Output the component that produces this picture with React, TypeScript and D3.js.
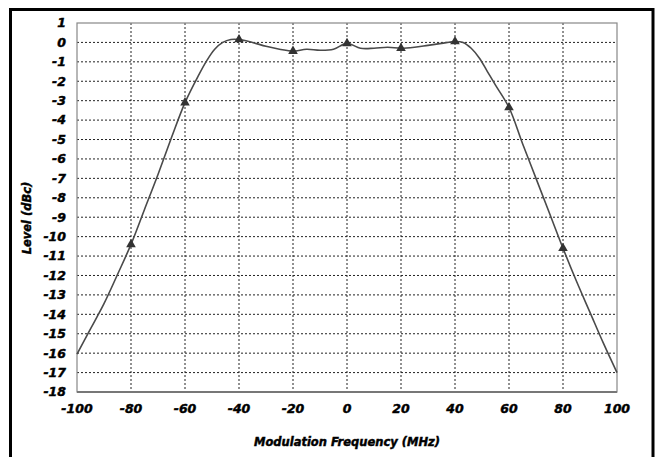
import React, { useEffect, useRef } from 'react';
import * as d3 from 'd3';

// curve samples (MHz, dBc)
const freq = [-100, -95, -90, -85, -80, -75, -70, -65, -60, -55, -52, -49, -46, -43, -40, -35, -30, -25, -20, -15, -10, -5, 0, 5, 10, 15, 20, 25, 30, 35, 40, 43, 46, 49, 52, 55, 60, 65, 70, 75, 80, 85, 90, 95, 100];
const level = [-16.05, -14.75, -13.45, -11.95, -10.4, -8.6, -6.8, -4.9, -3.1, -1.7, -0.95, -0.35, 0.0, 0.15, 0.15, 0.0, -0.2, -0.35, -0.45, -0.35, -0.4, -0.35, -0.05, -0.3, -0.3, -0.25, -0.3, -0.25, -0.15, -0.05, 0.05, 0.0, -0.3, -0.8, -1.5, -2.2, -3.35, -5.2, -7.0, -8.8, -10.6, -12.3, -13.9, -15.5, -17.0];

// triangle markers
const markerFreq = [-80, -60, -40, -20, 0, 20, 40, 60, 80];
const markerLevel = [-10.4, -3.1, 0.15, -0.45, -0.05, -0.3, 0.05, -3.35, -10.6];

const xTicks = [-100, -80, -60, -40, -20, 0, 20, 40, 60, 80, 100];
const yTicks = d3.range(-18, 2);

const App: React.FC = () => {
  const svgRef = useRef<SVGSVGElement>(null);

  useEffect(() => {
    document.body.style.margin = '0';
    if (!svgRef.current) return;
    const svg = d3.select(svgRef.current);
    svg.selectAll('*').remove();

    const left = 77, right = 617, top = 23, bottom = 392;
    const x = d3.scaleLinear().domain([-100, 100]).range([left, right]);
    const y = d3.scaleLinear().domain([-18, 1]).range([bottom, top]);
    const font = '"DejaVu Sans", Verdana, sans-serif';

    svg.append('rect').attr('width', 662).attr('height', 457).attr('fill', '#fff');

    // outer frame
    svg.append('rect')
      .attr('x', 10.5).attr('y', 9.5).attr('width', 642.5).attr('height', 470)
      .attr('fill', 'none').attr('stroke', '#000').attr('stroke-width', 3);

    // grid
    const g = svg.append('g');
    g.selectAll('line.gy').data(yTicks.filter(t => t > -18 && t < 1)).join('line')
      .attr('x1', left).attr('x2', right)
      .attr('y1', d => y(d)).attr('y2', d => y(d))
      .attr('stroke', '#222').attr('stroke-width', 1).attr('stroke-dasharray', '2,2');
    g.selectAll('line.gx').data(xTicks.filter(t => t > -100 && t < 100)).join('line')
      .attr('y1', top).attr('y2', bottom)
      .attr('x1', d => x(d)).attr('x2', d => x(d))
      .attr('stroke', '#222').attr('stroke-width', 1).attr('stroke-dasharray', '2,2');

    // plot border
    svg.append('rect')
      .attr('x', left).attr('y', top).attr('width', right - left).attr('height', bottom - top)
      .attr('fill', 'none').attr('stroke', '#888').attr('stroke-width', 1.2);
    svg.append('line')
      .attr('x1', left).attr('x2', right).attr('y1', bottom).attr('y2', bottom)
      .attr('stroke', '#777').attr('stroke-width', 2);

    const heavy = (sel: any, size: number) => sel
      .style('font-family', font).style('font-size', `${size}px`)
      .style('font-weight', 'bold').style('font-style', 'italic')
      .attr('stroke', '#000').attr('stroke-width', 0.45).attr('fill', '#000');

    // tick labels
    heavy(svg.append('g').selectAll('text').data(yTicks).join('text')
      .attr('x', 66).attr('y', d => y(d)).attr('dy', '0.35em')
      .attr('text-anchor', 'end')
      .text(d => d), 12.5);
    heavy(svg.append('g').selectAll('text').data(xTicks).join('text')
      .attr('x', d => x(d)).attr('y', 413)
      .attr('text-anchor', 'middle')
      .text(d => d), 12.5);

    // axis titles
    heavy(svg.append('text')
      .attr('transform', 'translate(31,218) rotate(-90)')
      .attr('text-anchor', 'middle')
      .text('Level (dBc)'), 11.5);
    heavy(svg.append('text')
      .attr('x', (left + right) / 2).attr('y', 446)
      .attr('text-anchor', 'middle')
      .text('Modulation Frequency (MHz)'), 11.5);

    // curve
    const pts = freq.map((f, i) => [f, level[i]] as [number, number]);
    const line = d3.line<[number, number]>()
      .x(d => x(d[0])).y(d => y(d[1]))
      .curve(d3.curveCatmullRom.alpha(0.5));
    svg.append('path').datum(pts)
      .attr('d', line)
      .attr('fill', 'none').attr('stroke', '#4a4a4a').attr('stroke-width', 1.6);

    // markers
    const tri = d3.symbol().type(d3.symbolTriangle).size(40);
    svg.append('g').selectAll('path').data(markerFreq).join('path')
      .attr('transform', (d, i) => `translate(${x(d)},${y(markerLevel[i])})`)
      .attr('d', tri)
      .attr('fill', '#333');
  }, []);

  return <svg ref={svgRef} width={662} height={457} style={{ display: 'block' }} />;
};

export default App;
